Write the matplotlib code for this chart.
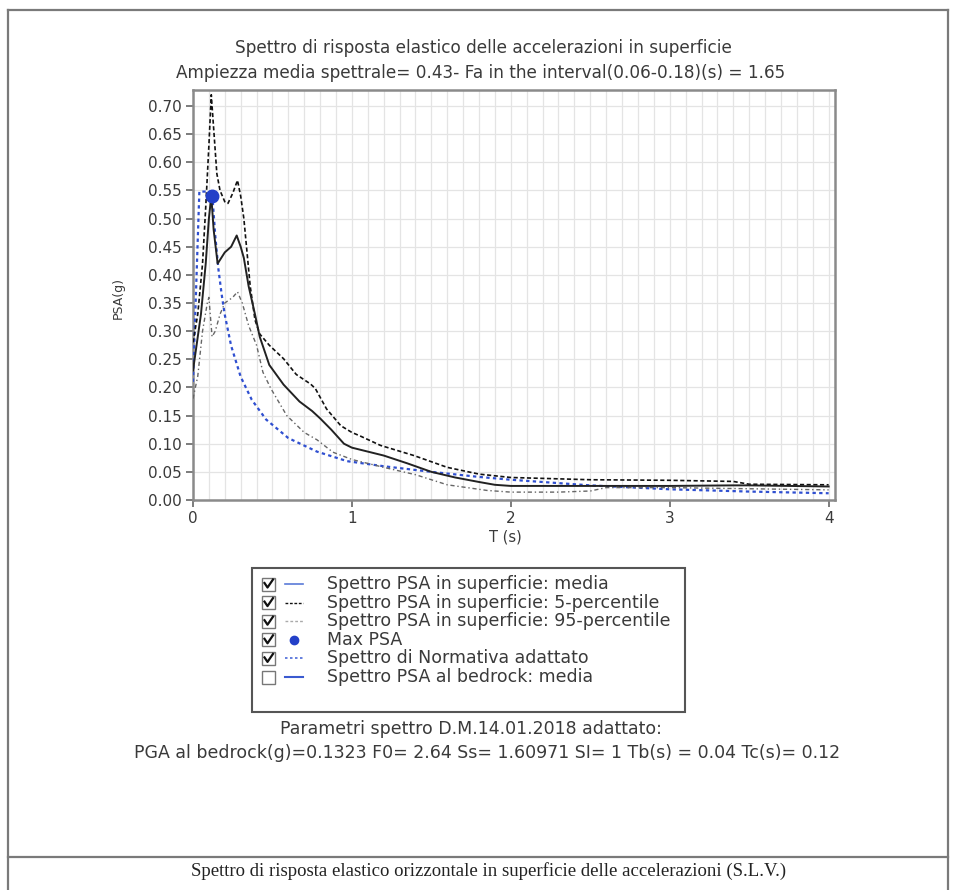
import matplotlib
matplotlib.use("Agg")
import matplotlib.pyplot as plt
from matplotlib.lines import Line2D
from matplotlib.patches import Rectangle
from matplotlib.ticker import MultipleLocator

plt.rcParams['font.family'] = ['DejaVu Sans']

# ---------------- data ----------------
title_1 = "Spettro di risposta elastico delle accelerazioni in superficie"
title_2 = "Ampiezza media spettrale= 0.43- Fa in the interval(0.06-0.18)(s) = 1.65"
x_label = "T (s)"
y_label = "PSA(g)"
x_ticks = [0, 1, 2, 3, 4]
y_ticks = [0.00, 0.05, 0.10, 0.15, 0.20, 0.25, 0.30, 0.35, 0.40, 0.45, 0.50, 0.55, 0.60, 0.65, 0.70]

# media (solid black)
T_media = [0, 0.03, 0.05, 0.08, 0.10, 0.115, 0.13, 0.155, 0.20, 0.24, 0.275, 0.30, 0.32, 0.35,
           0.39, 0.42, 0.48, 0.57, 0.67, 0.75, 0.80, 0.87, 0.95, 1.0, 1.1, 1.2, 1.35, 1.5,
           1.65, 1.8, 1.9, 2.0, 2.5, 3.0, 3.4, 3.5, 4.0]
psa_media = [0.23, 0.29, 0.33, 0.42, 0.50, 0.54, 0.48, 0.42, 0.44, 0.45, 0.47, 0.45, 0.43, 0.38,
             0.33, 0.29, 0.24, 0.205, 0.175, 0.158, 0.145, 0.125, 0.10, 0.093, 0.086, 0.079, 0.065, 0.05,
             0.04, 0.032, 0.027, 0.025, 0.025, 0.025, 0.026, 0.026, 0.024]

# 5-percentile (dense dashed black)
T_p5 = [0, 0.03, 0.06, 0.08, 0.10, 0.115, 0.13, 0.15, 0.17, 0.20, 0.22, 0.25, 0.28, 0.30, 0.32,
        0.36, 0.39, 0.42, 0.48, 0.57, 0.65, 0.74, 0.77, 0.84, 0.93, 1.0, 1.05, 1.18, 1.39, 1.6,
        1.8, 2.0, 2.5, 3.0, 3.4, 3.5, 4.0]
psa_p5 = [0.28, 0.33, 0.42, 0.52, 0.63, 0.72, 0.66, 0.58, 0.55, 0.53, 0.527, 0.545, 0.568, 0.54, 0.50,
          0.38, 0.32, 0.295, 0.275, 0.251, 0.223, 0.206, 0.198, 0.162, 0.132, 0.12, 0.114, 0.097, 0.079, 0.058,
          0.046, 0.040, 0.036, 0.035, 0.033, 0.028, 0.027]

# 95-percentile (light dash-dot grey)
T_p95 = [0, 0.03, 0.06, 0.09, 0.10, 0.12, 0.14, 0.17, 0.20, 0.25, 0.28, 0.31, 0.35, 0.40, 0.44,
         0.49, 0.59, 0.70, 0.78, 0.88, 1.0, 1.2, 1.4, 1.6, 1.8, 1.85, 2.0, 2.3, 2.5, 2.6, 3.0, 3.5, 4.0]
psa_p95 = [0.18, 0.22, 0.30, 0.35, 0.36, 0.29, 0.30, 0.33, 0.35, 0.36, 0.37, 0.35, 0.31, 0.275, 0.227,
           0.198, 0.15, 0.12, 0.107, 0.085, 0.072, 0.058, 0.045, 0.027, 0.019, 0.017, 0.014, 0.014, 0.016, 0.022, 0.022, 0.020, 0.018]

# Spettro di Normativa adattato (blue dotted)
T_norm = [0, 0.04, 0.12, 0.14, 0.16, 0.18, 0.20, 0.24, 0.30, 0.37, 0.46, 0.60, 0.78, 0.97,
          1.2, 1.5, 1.8, 2.0, 2.5, 3.0, 3.5, 4.0]
psa_norm = [0.21, 0.548, 0.548, 0.47, 0.41, 0.366, 0.329, 0.274, 0.219, 0.178, 0.143, 0.110, 0.086, 0.069,
            0.060, 0.050, 0.041, 0.036, 0.026, 0.019, 0.015, 0.012]

# Max PSA
max_psa_T = [0.118]
max_psa_val = [0.54]

legend_labels = ["Spettro PSA in superficie: media",
                 "Spettro PSA in superficie: 5-percentile",
                 "Spettro PSA in superficie: 95-percentile",
                 "Max PSA",
                 "Spettro di Normativa adattato",
                 "Spettro PSA al bedrock: media"]
legend_checked = [True, True, True, True, True, False]

param_title = "Parametri spettro D.M.14.01.2018 adattato:"
param_line = "PGA al bedrock(g)=0.1323 F0= 2.64 Ss= 1.60971 SI= 1 Tb(s) = 0.04 Tc(s)= 0.12"
caption = "Spettro di risposta elastico orizzontale in superficie delle accelerazioni (S.L.V.)"

# ---------------- figure ----------------
W, H = 955, 890
fig = plt.figure(figsize=(W / 100, H / 100), dpi=100)
fig.patch.set_facecolor('white')


def fx(x):
    return x / W


def fy(y):
    return 1 - y / H


txt_col = '#3a3a3a'
blue = '#2f4fd0'

ax = fig.add_axes([fx(193), fy(500), fx(835) - fx(193), fy(90) - fy(500)])
ax.set_xlim(0, 4.04)
ax.set_ylim(0, 0.7285)

ax.plot(T_norm, psa_norm, color=blue, lw=1.6, ls=(0, (1.5, 1.5)), zorder=3)
ax.plot(T_p95, psa_p95, color='#666666', lw=1.0, ls=(0, (3, 2, 1, 2)), zorder=3)
ax.plot(T_p5, psa_p5, color='#111111', lw=1.2, ls=(0, (2.5, 1.5)), zorder=4)
ax.plot(T_media, psa_media, color='#222222', lw=1.4, ls='-', zorder=5)
ax.plot(max_psa_T, max_psa_val, 'o', color='#2340c8', ms=9, zorder=6)

ax.set_xticks(x_ticks)
ax.set_xticklabels([str(t) for t in x_ticks])
ax.set_yticks(y_ticks)
ax.set_yticklabels([f"{v:.2f}" for v in y_ticks])
ax.xaxis.set_minor_locator(MultipleLocator(0.1))
ax.grid(True, which='minor', axis='x', color='#e4e4e4', lw=0.9)
ax.grid(True, which='major', axis='x', color='#e4e4e4', lw=0.9)
ax.grid(True, which='major', axis='y', color='#e4e4e4', lw=0.9)
ax.set_axisbelow(True)
ax.tick_params(axis='both', which='major', direction='out', length=5, width=1.2,
               color='#666666', labelsize=11, labelcolor=txt_col, pad=3)
ax.tick_params(axis='x', which='minor', length=0)
for s in ax.spines.values():
    s.set_color('#8a8a8a')
    s.set_linewidth(1.8)

fig.text(fx(505), fy(537), x_label, ha='center', va='center', fontsize=10.5, color=txt_col)
fig.text(fx(118), fy(298), y_label, ha='center', va='center', fontsize=9, color=txt_col, rotation=90)

fig.text(fx(483), fy(48), title_1, ha='center', va='center', fontsize=12.2, color=txt_col)
fig.text(fx(481), fy(73), title_2, ha='center', va='center', fontsize=12.2, color=txt_col)

# ---------------- legend (manual, with check boxes) ----------------
fig.patches.append(Rectangle((fx(252), fy(712)), fx(685) - fx(252), fy(568) - fy(712),
                             transform=fig.transFigure, fill=False, edgecolor='#555555', lw=1.5))
row_y = [584, 602.6, 621.2, 639.8, 658.4, 677]
samples = [
    dict(color='#5a7ad8', ls='-', lw=1.2, marker=None),
    dict(color='#111111', ls=(0, (2, 1.2)), lw=1.0, marker=None),
    dict(color='#aaaaaa', ls=(0, (2, 1.5)), lw=1.0, marker=None),
    dict(color='#2340c8', ls='none', lw=1.0, marker='o'),
    dict(color='#4a6ad8', ls=(0, (1.5, 1.5)), lw=1.2, marker=None),
    dict(color='#3a5ad0', ls='-', lw=1.5, marker=None),
]
for yy, lab, chk, smp in zip(row_y, legend_labels, legend_checked, samples):
    fig.patches.append(Rectangle((fx(262), fy(yy + 6.5)), fx(275) - fx(262), fy(yy - 6.5) - fy(yy + 6.5),
                                 transform=fig.transFigure, fill=False, edgecolor='#777777', lw=1.0))
    if chk:
        fig.lines.append(Line2D([fx(264.5), fx(267.5), fx(273)], [fy(yy - 1), fy(yy + 3.5), fy(yy - 4.5)],
                                transform=fig.transFigure, color='#111111', lw=1.6))
    if smp['marker']:
        fig.lines.append(Line2D([fx(294)], [fy(yy)], transform=fig.transFigure, marker='o',
                                color=smp['color'], ms=6, ls='none'))
    else:
        fig.lines.append(Line2D([fx(285), fx(303)], [fy(yy), fy(yy)], transform=fig.transFigure,
                                color=smp['color'], ls=smp['ls'], lw=smp['lw']))
    fig.text(fx(327), fy(yy), lab, ha='left', va='center', fontsize=12.5, color=txt_col)

fig.text(fx(471), fy(729), param_title, ha='center', va='center', fontsize=12.5, color=txt_col)
fig.text(fx(487), fy(753), param_line, ha='center', va='center', fontsize=12.5, color=txt_col)

# ---------------- outer frame & caption ----------------
frame_col = '#7a7a7a'
fig.lines.append(Line2D([fx(8), fx(948)], [fy(10), fy(10)], transform=fig.transFigure, color=frame_col, lw=1.6))
fig.lines.append(Line2D([fx(8), fx(8)], [fy(10), fy(890)], transform=fig.transFigure, color=frame_col, lw=1.6))
fig.lines.append(Line2D([fx(948), fx(948)], [fy(10), fy(890)], transform=fig.transFigure, color=frame_col, lw=1.6))
fig.lines.append(Line2D([fx(8), fx(948)], [fy(857), fy(857)], transform=fig.transFigure, color=frame_col, lw=1.6))
fig.text(fx(489), fy(871), caption, ha='center', va='center', fontsize=13.5, color='#222222',
         family=['Liberation Serif', 'DejaVu Serif'])

fig.savefig("out.png", dpi=100, facecolor='white')
